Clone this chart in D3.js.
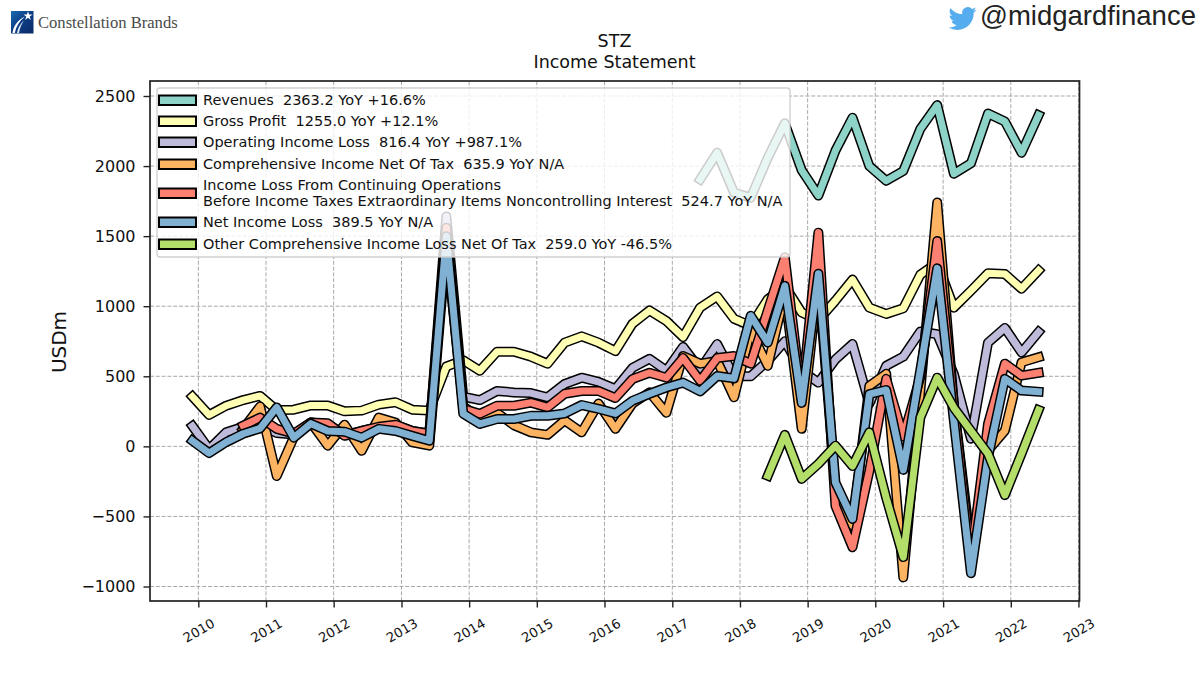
<!DOCTYPE html>
<html>
<head>
<meta charset="utf-8">
<script src="https://cdn.jsdelivr.net/npm/d3@7"></script>
<style>
html,body{margin:0;padding:0;background:#fff}
svg{display:block}
text{font-family:"DejaVu Sans",sans-serif;fill:#111;white-space:pre}
</style>
</head>
<body>
<svg id="chart" width="1200" height="675"></svg>
<script>
// Fiscal quarter-end dates, STZ
const quarters = [
"2009-11-30",
"2010-02-28","2010-05-31","2010-08-31","2010-11-30",
"2011-02-28","2011-05-31","2011-08-31","2011-11-30",
"2012-02-29","2012-05-31","2012-08-31","2012-11-30",
"2013-02-28","2013-05-31","2013-08-31","2013-11-30",
"2014-02-28","2014-05-31","2014-08-31","2014-11-30",
"2015-02-28","2015-05-31","2015-08-31","2015-11-30",
"2016-02-29","2016-05-31","2016-08-31","2016-11-30",
"2017-02-28","2017-05-31","2017-08-31","2017-11-30",
"2018-02-28","2018-05-31","2018-08-31","2018-11-30",
"2019-02-28","2019-05-31","2019-08-31","2019-11-30",
"2020-02-29","2020-05-31","2020-08-31","2020-11-30",
"2021-02-28","2021-05-31","2021-08-31","2021-11-30",
"2022-02-28","2022-05-31"];

const N = null;
const revenues = [N,N,N,N,N,N,N,N,N,N,N,N,N,N,N,N,N,N,N,N,N,N,N,N,N,N,N,N,N,N,
1905,2095,1810,1775,2060,2305,1970,1790,2110,2345,2000,1895,1965,2265,2435,1945,2020,2375,2318,2095,2363.2];
const grossProfit = [355,224,290,330,360,259,262,292,292,250,255,298,315,262,255,570,615,540,675,675,640,590,740,785,740,680,875,970,895,780,
990,1070,910,860,1050,1145,955,900,1040,1190,990,945,985,1225,1310,990,1110,1235,1230,1125,1255];
const operatingIncome = [145,-20,100,140,150,95,85,170,160,80,110,140,155,110,90,1640,355,330,395,385,380,350,445,490,460,410,560,625,540,710,
550,730,500,500,610,750,540,455,620,730,305,575,640,820,800,515,55,740,845,670,816.4];
const comprehensiveIncome = [N,N,N,125,285,-212,65,170,5,155,-32,205,170,28,5,1440,285,205,240,150,100,82,185,100,305,125,305,385,240,645,
590,610,350,825,575,1095,125,1195,-305,-565,432,518,-935,395,1740,295,-725,-30,112,600,635.9];
const incomeBeforeTax = [N,N,N,148,205,125,90,170,165,75,110,140,155,110,90,1560,268,232,290,290,312,278,375,395,395,345,480,525,490,630,
468,630,645,590,970,1350,345,1525,-425,-720,-175,482,70,495,1465,295,-805,160,590,505,524.7];
const netIncome = [40,-48,30,90,128,278,62,162,110,105,62,125,110,75,40,1500,232,160,195,195,218,218,235,295,268,235,325,375,420,455,
392,502,485,932,740,1145,310,1232,-258,-518,372,402,-168,545,1270,182,-905,-80,482,398,389.5];
const otherComprehensive = [N,N,N,N,N,N,N,N,N,N,N,N,N,N,N,N,N,N,N,N,N,N,N,N,N,N,N,N,N,N,N,N,N,N,
-210,82,-232,-125,5,-140,100,-368,-790,205,490,275,110,-52,-348,-52,259];

const seriesValues = [revenues, grossProfit, operatingIncome, comprehensiveIncome, incomeBeforeTax, netIncome, otherComprehensive];
const seriesColors = ["#8dd3c7","#ffffb3","#bebada","#fdb462","#fb8072","#80b1d3","#b3de69"];
const legendLabels = [
  ["Revenues  2363.2 YoY +16.6%"],
  ["Gross Profit  1255.0 YoY +12.1%"],
  ["Operating Income Loss  816.4 YoY +987.1%"],
  ["Comprehensive Income Net Of Tax  635.9 YoY N/A"],
  ["Income Loss From Continuing Operations","Before Income Taxes Extraordinary Items Noncontrolling Interest  524.7 YoY N/A"],
  ["Net Income Loss  389.5 YoY N/A"],
  ["Other Comprehensive Income Loss Net Of Tax  259.0 YoY -46.5%"]
];
const yTicks = [-1000,-500,0,500,1000,1500,2000,2500];
const titleLines = ["STZ","Income Statement"];

const frame = {left:150, right:1079.5, top:81, bottom:601};
const svg = d3.select("#chart");
const parse = d3.utcParse("%Y-%m-%d");
const dates = quarters.map(parse);

const x = d3.scaleUtc().domain(d3.extent(dates)).range([192.4, 1038.6]);
const y = d3.scaleLinear().domain([-1000,2500]).range([586.5,96]);
const yearTicks = d3.utcYear.range(new Date(Date.UTC(2010,0,1)), new Date(Date.UTC(2024,0,1)));

// grid
const grid = svg.append("g").attr("fill","none").attr("stroke","#a8a8a8").attr("stroke-width",1).attr("stroke-dasharray","4,1.8");
grid.selectAll("line.v").data(yearTicks).join("line").attr("class","v")
  .attr("x1",d=>x(d)).attr("x2",d=>x(d)).attr("y1",frame.top).attr("y2",frame.bottom);
grid.selectAll("line.h").data(yTicks).join("line").attr("class","h")
  .attr("x1",frame.left).attr("x2",frame.right).attr("y1",d=>y(d)).attr("y2",d=>y(d));

// outlined series lines, drawn in statement order
const line = d3.line().defined(d=>d.v!==null).x(d=>x(d.t)).y(d=>y(d.v));
seriesValues.forEach((vals,i)=>{
  const pts = vals.map((v,j)=>({t:dates[j],v}));
  const g = svg.append("g").attr("fill","none").attr("stroke-linejoin","round").attr("stroke-linecap","square");
  g.append("path").datum(pts).attr("d",line).attr("stroke","#000").attr("stroke-width",10);
  g.append("path").datum(pts).attr("d",line).attr("stroke",seriesColors[i]).attr("stroke-width",7);
});

// axes
const fmtY = d=>d3.format("d")(d).replace("-","\u2212");
const yAxis = d3.axisLeft(y).tickValues(yTicks).tickFormat(fmtY).tickSize(6.5).tickPadding(8);
const yG = svg.append("g").attr("transform",`translate(${frame.left},0)`).call(yAxis);
yG.select(".domain").remove();
yG.selectAll("text").attr("font-size",16).style("font-family",'"DejaVu Sans"').style("fill","#111");
yG.selectAll("line").attr("stroke","#222").attr("stroke-width",1.4);

const xAxis = d3.axisBottom(x).tickValues(yearTicks).tickFormat(d3.utcFormat("%Y")).tickSize(6.5);
const xG = svg.append("g").attr("transform",`translate(0,${frame.bottom})`).call(xAxis);
xG.select(".domain").remove();
xG.selectAll("line").attr("stroke","#222").attr("stroke-width",1.4);
xG.selectAll("text").attr("font-size",13.2).style("font-family",'"DejaVu Sans"').style("fill","#111")
  .attr("text-anchor","middle").attr("dy","0.35em").attr("y",0)
  .attr("transform","translate(0,29.5) rotate(-30)");

svg.append("rect").attr("x",frame.left).attr("y",frame.top)
  .attr("width",frame.right-frame.left).attr("height",frame.bottom-frame.top)
  .attr("fill","none").attr("stroke","#222").attr("stroke-width",1.7);

// titles
svg.append("g").selectAll("text").data(titleLines).join("text")
  .attr("x",614.5).attr("y",(d,i)=>47+i*20.5).attr("text-anchor","middle").attr("font-size",17.5).text(d=>d);
svg.append("text").attr("transform","translate(65.5,342) rotate(-90)").attr("text-anchor","middle")
  .attr("font-size",20).text("USDm");

// legend
const legend = svg.append("g");
legend.append("rect").attr("x",157).attr("y",88).attr("width",633).attr("height",169).attr("rx",3)
  .attr("fill","#fff").attr("fill-opacity",0.8).attr("stroke","#ccc").attr("stroke-opacity",0.9).attr("stroke-width",1.4);
const rowCenters = [100,121,142,164,193,222,244];
const rows = legend.selectAll("g.row").data(legendLabels).join("g").attr("class","row")
  .attr("transform",(d,i)=>`translate(0,${rowCenters[i]})`);
rows.append("rect").attr("x",159).attr("y",-4.5).attr("width",37).attr("height",9.5)
  .attr("fill",(d,i)=>seriesColors[i]).attr("stroke","#000").attr("stroke-width",2);
rows.each(function(lines){
  d3.select(this).selectAll("text").data(lines).join("text")
    .attr("x",203).attr("font-size",14.5)
    .attr("y",(d,i)=>5+(i-(lines.length-1)/2)*15.6).text(d=>d);
});

// company mark
const defs = svg.append("defs");
const grad = defs.append("linearGradient").attr("id","brandBlue").attr("x1",1).attr("y1",1).attr("x2",0).attr("y2",0);
grad.append("stop").attr("offset",0).attr("stop-color","#0b2a66");
grad.append("stop").attr("offset",0.55).attr("stop-color","#0d3f85");
grad.append("stop").attr("offset",1).attr("stop-color","#1a6ab5");
const brand = svg.append("g").attr("transform","translate(11,11)");
brand.append("rect").attr("width",22.5).attr("height",22.5).attr("fill","url(#brandBlue)");
brand.append("path").attr("d","M1.5,22 C2.5,15 6,9.5 14,5.5 C8.5,10 5,15.5 3.8,22 Z").attr("fill","#fff");
brand.append("path").attr("d","M6,22 C6.8,17 9,13 13,9.5 C10.5,13 8.8,17 8,22 Z").attr("fill","#dfe8f4");
brand.append("path").attr("d",d3.symbol(d3.symbolStar,26)()).attr("transform","translate(17,5)").attr("fill","#fff");
svg.append("text").attr("x",38).attr("y",28).attr("font-size",16.6)
  .style("font-family",'"Liberation Serif",serif').style("fill","#4a4a4a").text("Constellation Brands");

// handle, top right
svg.append("path").attr("transform","translate(948.5,4.5) scale(1.17)").attr("fill","#55acee")
  .attr("d","M23.95 4.57a10 10 0 0 1-2.82.77 4.96 4.96 0 0 0 2.16-2.72c-.95.55-2 .96-3.12 1.19a4.92 4.92 0 0 0-8.38 4.48C7.69 8.1 4.07 6.13 1.64 3.16a4.82 4.82 0 0 0-.67 2.48c0 1.71.87 3.21 2.19 4.1a4.9 4.9 0 0 1-2.23-.61v.06c0 2.39 1.7 4.38 3.95 4.83a4.9 4.9 0 0 1-2.22.08 4.93 4.93 0 0 0 4.6 3.42A9.87 9.87 0 0 1 0 19.54a13.94 13.94 0 0 0 7.55 2.21c9.05 0 14-7.5 14-13.98 0-.21 0-.42-.02-.63a9.94 9.94 0 0 0 2.46-2.55l-.04-.02Z");
svg.append("text").attr("x",980).attr("y",25).attr("font-size",27.5)
  .style("font-family",'"Liberation Sans",sans-serif').style("fill","#222").text("@midgardfinance");
</script>
</body>
</html>
